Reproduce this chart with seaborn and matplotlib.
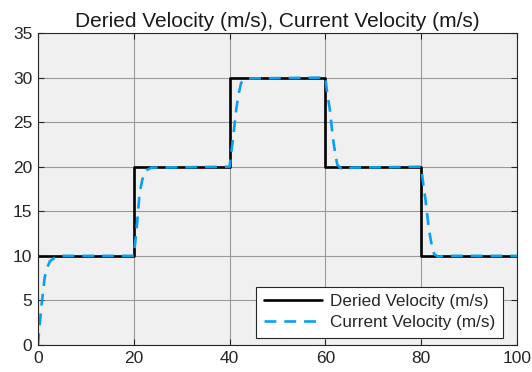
import matplotlib
matplotlib.use("Agg")
import matplotlib.pyplot as plt
import seaborn as sns
import pandas as pd

# Desired (reference) velocity - step profile
desired_t = [0, 20, 20, 40, 40, 60, 60, 80, 80, 100]
desired_v = [10, 10, 20, 20, 30, 30, 20, 20, 10, 10]

# Current velocity
current_t = [0, 0.3, 0.7, 1.4, 2.0, 2.5, 3.5, 4.9,
             20, 20.3, 20.7, 21.2, 21.8, 22.6, 23.7,
             40, 40.3, 40.7, 41.4, 41.9, 42.4, 43.5,
             60, 60.3, 60.9, 61.6, 62.1, 62.5, 63.3, 64.3, 65.5,
             80, 80.3, 80.9, 81.6, 82.2, 82.7, 83.5, 84.7, 100]
current_v = [0, 2.0, 4.3, 7.6, 8.8, 9.4, 9.8, 10,
             10, 11.5, 13.7, 17.0, 18.6, 19.6, 19.9,
             20, 21.4, 23.1, 26.5, 28.2, 29.4, 29.9,
             30, 28.6, 26.5, 23.1, 21.3, 20.2, 19.8, 19.7, 19.9,
             20, 18.6, 16.3, 13.0, 11.2, 10.2, 9.9, 10, 10]

title = "Deried Velocity (m/s), Current Velocity (m/s)"
label_desired = "Deried Velocity (m/s)"
label_current = "Current Velocity (m/s)"
xticks = [0, 20, 40, 60, 80, 100]
yticks = [0, 5, 10, 15, 20, 25, 30, 35]

sns.set_theme(style="white")
plt.rcParams['font.family'] = ['Liberation Sans', 'DejaVu Sans']

df_d = pd.DataFrame({"t": desired_t, "v": desired_v})
df_c = pd.DataFrame({"t": current_t, "v": current_v})

fig = plt.figure(figsize=(5.32, 3.72), dpi=100)
ax = fig.add_axes([38/532, 1 - 345/372, (517-38)/532, (345-33)/372])
ax.set_facecolor('#f0f0f0')

sns.lineplot(data=df_d, x="t", y="v", ax=ax, estimator=None, sort=False,
             color='black', linewidth=1.9, label=label_desired)
sns.lineplot(data=df_c, x="t", y="v", ax=ax, estimator=None, sort=False,
             color='#0aa0f0', linewidth=1.9, label=label_current)
ax.lines[1].set_dashes([4.5, 3])

ax.set_xlim(0, 100)
ax.set_ylim(0, 35)
ax.set_xticks(xticks)
ax.set_yticks(yticks)
ax.set_xlabel("")
ax.set_ylabel("")
ax.grid(True, color='#9a9a9a', linewidth=0.8)
ax.set_axisbelow(True)
ax.tick_params(direction='in', length=4, width=0.8, colors='#262626',
               labelsize=12.5, top=True, right=True, bottom=True, left=True,
               labelcolor='#262626', pad=4)
for s in ax.spines.values():
    s.set_color('#262626')
    s.set_linewidth(0.8)
    s.set_visible(True)

ax.set_title(title, fontsize=15, color='#1a1a1a', pad=4)

leg = ax.legend(loc='lower right', bbox_to_anchor=(0.971, 0.022),
                fontsize=12.3, frameon=True, fancybox=False,
                edgecolor='#262626', framealpha=1, handlelength=3.4,
                borderpad=0.45, labelspacing=0.35, handletextpad=0.5,
                borderaxespad=0.0)
leg.get_frame().set_linewidth(0.8)
leg.get_lines()[1].set_dashes([4.5, 3])

fig.savefig("out.png", dpi=100, facecolor='white')
